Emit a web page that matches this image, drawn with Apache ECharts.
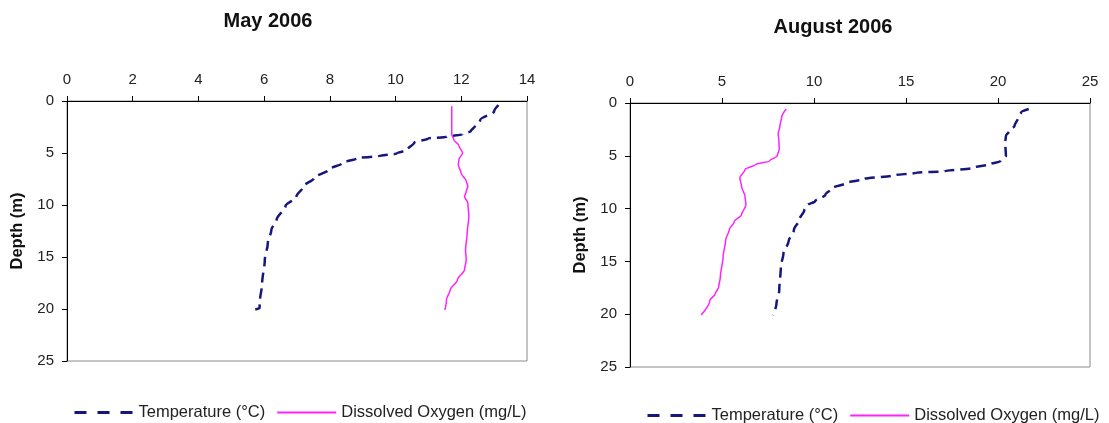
<!DOCTYPE html>
<html>
<head>
<meta charset="utf-8">
<script src="https://cdn.jsdelivr.net/npm/echarts@6/dist/echarts.min.js"></script>
<style>
  html, body { margin: 0; padding: 0; background: #fff; }
  #chart { width: 1109px; height: 423px; }
</style>
</head>
<body>
<div id="chart"></div>
<script>
// Series names
const TEMP_NAME = 'Temperature (°C)';
const DO_NAME = 'Dissolved Oxygen (mg/L)';

// May 2006 profile: temperature (°C) and depth (m)
const mayTempDepth = [0.4, 1.0, 1.8, 2.4, 2.9, 3.2, 3.45, 3.6, 4.0, 4.7, 5.05, 5.3, 5.5, 5.95, 6.6, 7.4, 8.2, 9.2, 10.1, 11.4, 12.4, 13.7, 15.3, 17.5, 19.3, 19.9, 20.05];
const mayTemp      = [13.13, 13.0, 12.58, 12.42, 12.29, 12.04, 11.55, 11.0, 10.57, 10.35, 10.03, 9.48, 8.83, 8.39, 7.96, 7.52, 7.2, 6.98, 6.65, 6.38, 6.22, 6.11, 6.02, 5.94, 5.87, 5.86, 5.73];

// May 2006 profile: dissolved oxygen (mg/L) and depth (m)
const mayDoDepth = [0.5, 3.2, 3.7, 4.3, 5.0, 5.6, 6.1, 6.9, 7.7, 8.2, 8.7, 9.2, 9.8, 11.1, 12.7, 14.3, 15.3, 16.2, 17.2, 18.2, 19.1, 20.1];
const mayDo      = [11.71, 11.71, 11.77, 11.93, 12.04, 11.93, 11.91, 11.99, 12.15, 12.2, 12.15, 12.1, 12.2, 12.23, 12.18, 12.13, 12.15, 12.1, 11.88, 11.66, 11.55, 11.5];

// August 2006 profile: temperature (°C) and depth (m)
const augTempDepth = [0.57, 0.9, 1.37, 2.16, 2.64, 3.12, 3.75, 5.0, 5.5, 5.8, 6.14, 6.46, 6.6, 6.87, 7.19, 7.57, 8.05, 8.68, 9.32, 9.64, 10.1, 11.07, 12.0, 13.1, 14.25, 15.5, 17.75, 19.0, 20.1];
const augTemp      = [21.67, 21.25, 21.1, 20.9, 20.62, 20.43, 20.39, 20.43, 20.14, 19.57, 18.62, 17.1, 15.57, 14.24, 12.72, 11.77, 11.0, 10.62, 10.05, 9.67, 9.48, 9.2, 8.91, 8.62, 8.34, 8.2, 8.11, 7.96, 7.77];

// August 2006 profile: dissolved oxygen (mg/L) and depth (m)
const augDoDepth = [0.57, 1.37, 2.16, 2.96, 3.44, 4.39, 5.0, 5.5, 5.82, 6.3, 7.09, 7.89, 8.84, 9.64, 10.59, 11.23, 12.02, 12.98, 14.57, 16.48, 17.43, 18.07, 18.7, 20.07];
const augDo      = [8.49, 8.24, 8.15, 8.05, 8.09, 8.11, 8.0, 7.58, 6.82, 6.25, 5.97, 6.06, 6.25, 6.3, 6.06, 5.67, 5.39, 5.2, 5.06, 4.91, 4.82, 4.63, 4.34, 3.87];

// Axis ranges
const mayXMax = 14, mayXStep = 2;
const augXMax = 25, augXStep = 5;
const depthMax = 25, depthStep = 5;

const FONT = '"Liberation Sans", Arial, sans-serif';
const TEMP_COLOR = '#16167c';
const DO_COLOR = '#ff22ff';

function pairs(xs, ys) {
  return xs.map((x, i) => [x, ys[i]]);
}

function xAxisFor(gridIndex, max, step) {
  return {
    gridIndex, type: 'value', position: 'top', min: 0, max, interval: step,
    axisLine: { show: true, lineStyle: { color: '#000', width: 1 } },
    axisTick: { show: true, inside: false, length: 5, lineStyle: { color: '#000' } },
    axisLabel: { color: '#222', fontSize: 15, fontFamily: FONT, margin: 14 },
    splitLine: { show: false }
  };
}

function yAxisFor(gridIndex) {
  return {
    gridIndex, type: 'value', inverse: true, min: 0, max: depthMax, interval: depthStep,
    name: 'Depth (m)', nameLocation: 'middle', nameGap: 41, nameRotate: 90,
    nameTextStyle: { color: '#111', fontSize: 16.5, fontWeight: 'bold', fontFamily: FONT },
    axisLine: { show: true, lineStyle: { color: '#000', width: 1 } },
    axisTick: { show: true, inside: false, length: 5, lineStyle: { color: '#000' } },
    axisLabel: { color: '#222', fontSize: 15, fontFamily: FONT, margin: 13 },
    splitLine: { show: false }
  };
}

function tempSeries(idx, xs, ys) {
  return {
    name: TEMP_NAME, type: 'line', xAxisIndex: idx, yAxisIndex: idx,
    data: pairs(xs, ys), symbol: 'none', smooth: 0.3, smoothMonotone: 'y',
    lineStyle: { color: TEMP_COLOR, width: 2.5, type: [10, 6] },
    itemStyle: { color: TEMP_COLOR }
  };
}

function doSeries(idx, xs, ys) {
  return {
    name: DO_NAME, type: 'line', xAxisIndex: idx, yAxisIndex: idx,
    data: pairs(xs, ys), symbol: 'none', smooth: 0.3, smoothMonotone: 'y',
    lineStyle: { color: DO_COLOR, width: 1.5 },
    itemStyle: { color: DO_COLOR }
  };
}

function legendAt(left, top) {
  return {
    left, top, orient: 'horizontal', itemWidth: 59, itemHeight: 12, itemGap: 11,
    data: [
      { name: TEMP_NAME, lineStyle: { type: [12, 11], width: 3 } },
      { name: DO_NAME }
    ],
    selectedMode: false,
    itemStyle: { opacity: 0 },
    textStyle: { color: '#222', fontSize: 16.5, fontFamily: FONT }
  };
}

const chart = echarts.init(document.getElementById('chart'), null, { renderer: 'canvas' });
chart.setOption({
  animation: false,
  backgroundColor: '#fff',
  title: [
    { text: 'May 2006', left: 263, top: 6, textAlign: 'center',
      textStyle: { fontSize: 20, fontWeight: 'bold', color: '#111', fontFamily: FONT } },
    { text: 'August 2006', left: 828, top: 12, textAlign: 'center',
      textStyle: { fontSize: 20, fontWeight: 'bold', color: '#111', fontFamily: FONT } }
  ],
  legend: [legendAt(68, 399), legendAt(641, 402)],
  grid: [
    { left: 67, top: 101, width: 460, height: 260, show: true, borderColor: '#8a8a8a', borderWidth: 1, backgroundColor: 'transparent' },
    { left: 630, top: 103, width: 460, height: 264, show: true, borderColor: '#8a8a8a', borderWidth: 1, backgroundColor: 'transparent' }
  ],
  xAxis: [xAxisFor(0, mayXMax, mayXStep), xAxisFor(1, augXMax, augXStep)],
  yAxis: [yAxisFor(0), yAxisFor(1)],
  series: [
    tempSeries(0, mayTemp, mayTempDepth),
    doSeries(0, mayDo, mayDoDepth),
    tempSeries(1, augTemp, augTempDepth),
    doSeries(1, augDo, augDoDepth)
  ]
});
</script>
</body>
</html>
